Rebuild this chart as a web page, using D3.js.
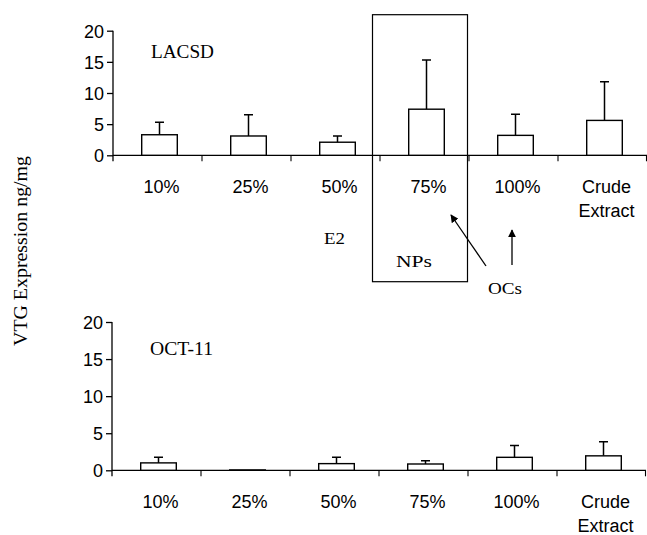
<!DOCTYPE html>
<html>
<head>
<meta charset="utf-8">
<script src="https://cdn.jsdelivr.net/npm/d3@7"></script>
<style>
  body { margin: 0; background: #fff; }
  text { fill: #000; }
  .tick-label { font-family: "Liberation Sans", Arial, sans-serif; font-size: 18px; }
  .serif { font-family: "Liberation Serif", "Times New Roman", serif; }
</style>
</head>
<body>
<svg id="chart" width="647" height="535"></svg>
<script>
// data
var categories = ["10%", "25%", "50%", "75%", "100%", "Crude Extract"];
var lacsdMean = [3.3, 3.1, 2.1, 7.4, 3.2, 5.6];
var lacsdSD = [2.0, 3.4, 1.0, 7.9, 3.4, 6.2];
var oct11Mean = [1.0, 0.05, 0.9, 0.85, 1.75, 1.95];
var oct11SD = [0.75, 0, 0.85, 0.45, 1.6, 1.9];
var yTicks = [0, 5, 10, 15, 20];

var svg = d3.select("svg#chart");

// serif text, squeezed/stretched to the width seen in the figure
function serifText(x, y, size, len, str) {
  return svg.append("text")
    .attr("class", "serif")
    .attr("x", x).attr("y", y)
    .attr("font-size", size)
    .attr("textLength", len)
    .attr("lengthAdjust", "spacingAndGlyphs")
    .text(str);
}

// one panel
function drawPanel(opts) {
  var g = svg.append("g");
  var x = d3.scaleBand().domain(categories).range([opts.left, opts.right]);
  var y = d3.scaleLinear().domain([0, 20]).range([opts.bottom, opts.top]);
  var bw = x.bandwidth() * 0.4;

  var rows = categories.map(function(c, i) {
    return { cat: c, mean: opts.mean[i], sd: opts.sd[i] };
  });

  // y axis
  var yAxis = g.append("g")
    .attr("transform", "translate(" + opts.left + ",0)")
    .call(d3.axisLeft(y).tickValues(yTicks).tickSize(6).tickPadding(3));
  yAxis.attr("font-size", null).attr("font-family", null);
  yAxis.select(".domain").attr("d", "M0," + y(20) + "V" + (opts.bottom + 6));
  yAxis.selectAll("line").attr("stroke-width", 1.3);
  yAxis.selectAll("path").attr("stroke-width", 1.3);
  yAxis.selectAll("text").attr("class", "tick-label").attr("dy", "0.36em");

  // x axis line with ticks at category boundaries
  g.append("line")
    .attr("x1", opts.left).attr("x2", opts.right)
    .attr("y1", y(0)).attr("y2", y(0))
    .attr("stroke", "#000").attr("stroke-width", 1.3);
  g.selectAll(".xtick")
    .data(categories.slice(1).concat(["end"]))
    .enter().append("line")
    .attr("x1", function(d) { return d == "end" ? opts.right - 0.5 : x(d); })
    .attr("x2", function(d) { return d == "end" ? opts.right - 0.5 : x(d); })
    .attr("y1", y(0)).attr("y2", y(0) + 6)
    .attr("stroke", "#000").attr("stroke-width", 1.1);

  // error bars (upper only)
  g.selectAll(".err")
    .data(rows.filter(function(d) { return d.sd > 0; }))
    .enter().append("path")
    .attr("d", function(d) {
      var cx = x(d.cat) + x.bandwidth() / 2 + 2;
      return "M" + cx + "," + y(d.mean) + "V" + y(d.mean + d.sd) +
        "M" + (cx - 4.5) + "," + y(d.mean + d.sd) + "H" + (cx + 4.5);
    })
    .attr("fill", "none").attr("stroke", "#000").attr("stroke-width", 1.5);

  // bars
  g.selectAll(".bar")
    .data(rows)
    .enter().append("rect")
    .attr("x", function(d) { return x(d.cat) + (x.bandwidth() - bw) / 2 + 2; })
    .attr("y", function(d) { return y(d.mean); })
    .attr("width", bw)
    .attr("height", function(d) { return y(0) - y(d.mean); })
    .attr("fill", "#fff").attr("stroke", "#000").attr("stroke-width", 1.4);

  // category labels
  var labels = g.selectAll(".xlabel")
    .data(categories)
    .enter().append("text")
    .attr("class", "tick-label")
    .attr("text-anchor", "middle")
    .attr("y", y(0) + 37.5);
  labels.each(function(d) {
    var parts = d.split(" ");
    var t = d3.select(this);
    parts.forEach(function(p, i) {
      t.append("tspan")
        .attr("x", x(d) + x.bandwidth() / 2 + 4)
        .attr("dy", i == 0 ? 0 : 24)
        .text(p);
    });
  });

  // panel title
  serifText(opts.left + 38, opts.titleY, 19, 63, opts.title);

  return { x: x, y: y, g: g };
}

var topPanel = drawPanel({
  left: 113, right: 647, top: 30.7, bottom: 155.3,
  mean: lacsdMean, sd: lacsdSD, title: "LACSD", titleY: 57.5
});

var bottomPanel = drawPanel({
  left: 112, right: 646, top: 322, bottom: 470.3,
  mean: oct11Mean, sd: oct11SD, title: "OCT-11", titleY: 354.5
});

// annotations on the top panel
var tx = topPanel.x;
svg.append("rect")
  .attr("x", tx("75%") - 7.5).attr("y", 14.7)
  .attr("width", tx.bandwidth() + 6).attr("height", 267)
  .attr("fill", "none").attr("stroke", "#000").attr("stroke-width", 1.2);

svg.append("defs").append("marker")
  .attr("id", "head")
  .attr("viewBox", "0 0 10 10")
  .attr("refX", 9).attr("refY", 5)
  .attr("markerWidth", 8).attr("markerHeight", 8)
  .attr("markerUnits", "userSpaceOnUse")
  .attr("orient", "auto")
  .append("path").attr("d", "M0,0L10,5L0,10Z").attr("fill", "#000");

svg.append("line")
  .attr("x1", 486).attr("y1", 266).attr("x2", 451).attr("y2", 215)
  .attr("stroke", "#000").attr("stroke-width", 1.3).attr("marker-end", "url(#head)");
svg.append("line")
  .attr("x1", 512).attr("y1", 265).attr("x2", 512).attr("y2", 230)
  .attr("stroke", "#000").attr("stroke-width", 1.3).attr("marker-end", "url(#head)");

serifText(324, 244, 17, 21, "E2");
serifText(396, 267, 17, 36, "NPs");
serifText(488, 294, 17, 34, "OCs");

// shared y label
serifText(0, 0, 18, 190, "VTG Expression ng/mg")
  .attr("x", null).attr("y", null)
  .attr("text-anchor", "middle")
  .attr("transform", "translate(27,251) rotate(-90)");
</script>
</body>
</html>
